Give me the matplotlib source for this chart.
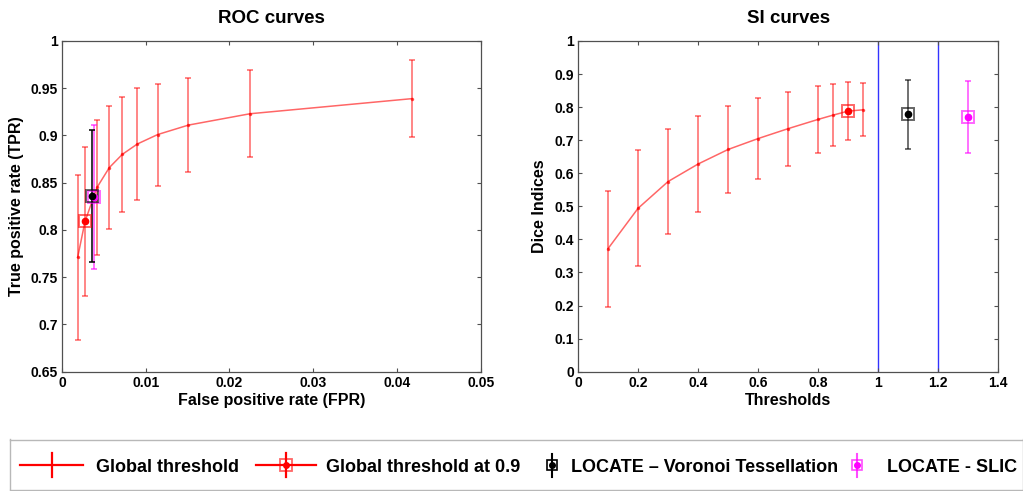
import matplotlib
matplotlib.use('Agg')
import matplotlib.pyplot as plt

plt.rcParams['font.family'] = ['Liberation Sans', 'DejaVu Sans']
plt.rcParams['font.weight'] = 'bold'

# ROC curve (global threshold), ordered by threshold 0.95 -> 0.2
roc_fpr = [0.00187, 0.00275, 0.00418, 0.00565, 0.0072, 0.0090, 0.01143, 0.0151, 0.02245, 0.0418]
roc_tpr = [0.771, 0.809, 0.845, 0.866, 0.880, 0.891, 0.901, 0.911, 0.923, 0.939]
roc_err = [0.087, 0.079, 0.071, 0.065, 0.061, 0.059, 0.054, 0.050, 0.046, 0.041]

# ROC single points (x, y, err): global threshold at 0.9, LOCATE Voronoi, LOCATE SLIC
roc_g09 = (0.00275, 0.809, 0.079)
roc_vor = (0.00355, 0.836, 0.070)
roc_slic = (0.0038, 0.835, 0.076)

# SI curve (Dice)
si_thr = [0.1, 0.2, 0.3, 0.4, 0.5, 0.6, 0.7, 0.8, 0.85, 0.9, 0.95]
si_dice = [0.372, 0.494, 0.575, 0.628, 0.672, 0.705, 0.735, 0.763, 0.776, 0.788, 0.792]
si_err = [0.175, 0.175, 0.159, 0.145, 0.132, 0.122, 0.112, 0.102, 0.095, 0.088, 0.080]

si_g09 = (0.9, 0.788, 0.088)
si_vor = (1.1, 0.778, 0.105)
si_slic = (1.3, 0.770, 0.110)
si_vlines = [1.0, 1.2]

legend_labels = ['Global threshold', 'Global threshold at 0.9',
                 'LOCATE \u2013 Voronoi Tessellation', 'LOCATE - SLIC']

fig = plt.figure(figsize=(10.23, 4.91), dpi=100)
ax1 = fig.add_axes([0.0606, 0.243, 0.4093, 0.6735])
ax2 = fig.add_axes([0.565, 0.243, 0.4109, 0.6735])

RED = (1, 0, 0, 0.6)
axcol = '#505050'


def point(ax, p, col, bar=True, bar_alpha=0.6):
    x, y, e = p
    if bar:
        ax.errorbar(x, y, yerr=e, color=col, alpha=bar_alpha, capsize=2.5, lw=1.3, capthick=1.3, zorder=3)
    ax.plot(x, y, 's', ms=8.5, mfc='none', mec=col, mew=1.4, alpha=0.6, zorder=4)
    ax.plot(x, y, 'o', ms=4.5, color=col, zorder=5)


# ROC
ax1.errorbar(roc_fpr, roc_tpr, yerr=roc_err, color=RED, lw=1.1, capsize=2.5, capthick=1.1,
             marker='.', ms=3, zorder=2)
point(ax1, roc_g09, 'red', bar=False)
point(ax1, roc_slic, 'magenta')
point(ax1, roc_vor, 'black', bar_alpha=0.85)
ax1.set_xlim(0, 0.05)
ax1.set_ylim(0.65, 1)
ax1.set_xticks([0, 0.01, 0.02, 0.03, 0.04, 0.05])
ax1.set_xticklabels(['0', '0.01', '0.02', '0.03', '0.04', '0.05'])
ax1.set_yticks([0.65, 0.7, 0.75, 0.8, 0.85, 0.9, 0.95, 1])
ax1.set_yticklabels(['0.65', '0.7', '0.75', '0.8', '0.85', '0.9', '0.95', '1'])
ax1.set_title('ROC curves', fontsize=13.5, fontweight='bold', pad=13)
ax1.set_xlabel('False positive rate (FPR)', fontsize=11.5, fontweight='bold', labelpad=2)
ax1.set_ylabel('True positive rate (TPR)', fontsize=11.5, fontweight='bold', labelpad=5)

# SI
for v in si_vlines:
    ax2.axvline(v, color='blue', lw=1.0, alpha=0.8, zorder=1)
ax2.errorbar(si_thr, si_dice, yerr=si_err, color=RED, lw=1.1, capsize=2.5, capthick=1.1,
             marker='.', ms=3, zorder=2)
point(ax2, si_g09, 'red', bar=False)
point(ax2, si_vor, 'black')
point(ax2, si_slic, 'magenta')
ax2.set_xlim(0, 1.4)
ax2.set_ylim(0, 1)
ax2.set_xticks([0, 0.2, 0.4, 0.6, 0.8, 1.0, 1.2, 1.4])
ax2.set_xticklabels(['0', '0.2', '0.4', '0.6', '0.8', '1', '1.2', '1.4'])
ax2.set_yticks([i / 10 for i in range(11)])
ax2.set_yticklabels(['0', '0.1', '0.2', '0.3', '0.4', '0.5', '0.6', '0.7', '0.8', '0.9', '1'])
ax2.set_title('SI curves', fontsize=13.5, fontweight='bold', pad=13)
ax2.set_xlabel('Thresholds', fontsize=11.5, fontweight='bold', labelpad=2)
ax2.set_ylabel('Dice Indices', fontsize=11.5, fontweight='bold', labelpad=5)

for ax in (ax1, ax2):
    ax.tick_params(direction='in', top=True, right=True, length=3, width=0.8,
                   color=axcol, labelsize=10, pad=3)
    for s in ax.spines.values():
        s.set_color(axcol)
        s.set_linewidth(0.9)

# legend box, drawn in pixel units of the figure
lax = fig.add_axes([10 / 1023, 1.5 / 491, 1013 / 1023, 50 / 491])
lax.set_xlim(10, 1023)
lax.set_ylim(489.5, 439.5)
lax.set_xticks([])
lax.set_yticks([])
for s in lax.spines.values():
    s.set_color('#b8b8b8')
    s.set_linewidth(1.0)

yc = 465
# Global threshold: line with a vertical bar
lax.plot([20, 83], [yc, yc], color='red', lw=1.6)
lax.plot([52, 52], [453, 477.5], color='red', lw=1.6)
# Global threshold at 0.9
lax.plot([256, 316], [yc, yc], color='red', lw=1.6)
lax.plot([286, 286], [453, 477.5], color='red', lw=1.6)
lax.plot(286, yc, 's', ms=9, mfc='none', mec='red', mew=1.3, alpha=0.6)
lax.plot(286, yc, 'o', ms=4, color='red')
# LOCATE handles
for xh, col in [(552, 'black'), (857, 'magenta')]:
    a = 0.7 if col == 'magenta' else 1.0
    lax.plot([xh, xh], [454, 477.5], color=col, lw=1.5, alpha=a)
    lax.plot(xh, yc, 's', ms=7.5, mfc='none', mec=col, mew=1.2, alpha=a)
    lax.plot(xh, yc, 'o', ms=4, color=col)

for xt, lab in zip([96.5, 326.5, 571, 887.5], legend_labels):
    lax.text(xt, 472, lab, fontsize=13, fontweight='bold', ha='left', va='baseline')

fig.savefig('out.png', dpi=100)
